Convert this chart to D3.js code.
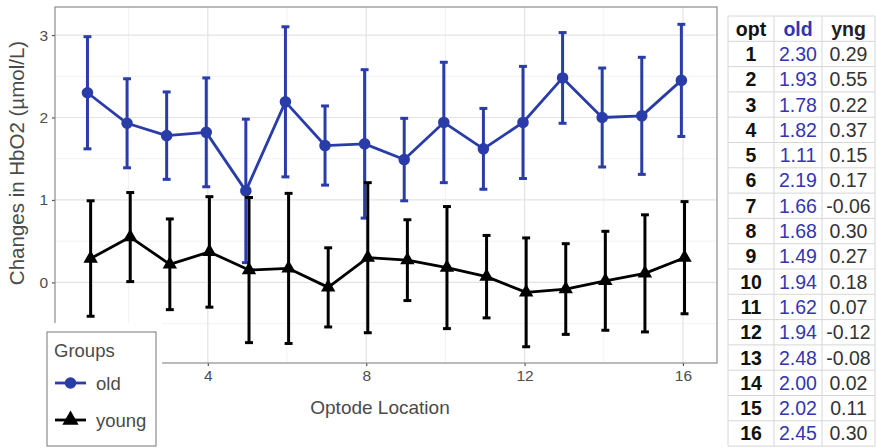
<!DOCTYPE html>
<html>
<head>
<meta charset="utf-8">
<script src="https://cdn.jsdelivr.net/npm/d3@7/dist/d3.min.js"></script>
<style>
  html, body { margin: 0; padding: 0; background: #fff; }
  svg { display: block; font-family: "Liberation Sans", Arial, sans-serif; }
</style>
</head>
<body>
<svg id="chart" width="878" height="448"></svg>
<script>
// Optode locations and group means of HbO2 change (µmol/L)
const optodes = [1, 2, 3, 4, 5, 6, 7, 8, 9, 10, 11, 12, 13, 14, 15, 16];
const oldMeans = [2.30, 1.93, 1.78, 1.82, 1.11, 2.19, 1.66, 1.68, 1.49, 1.94, 1.62, 1.94, 2.48, 2.00, 2.02, 2.45];
const youngMeans = [0.29, 0.55, 0.22, 0.37, 0.15, 0.17, -0.06, 0.30, 0.27, 0.18, 0.07, -0.12, -0.08, 0.02, 0.11, 0.30];
// Half-length of each error bar
const oldErr = [0.68, 0.54, 0.53, 0.66, 0.87, 0.91, 0.48, 0.90, 0.50, 0.73, 0.49, 0.68, 0.55, 0.60, 0.71, 0.68];
const youngErr = [0.70, 0.54, 0.55, 0.67, 0.88, 0.91, 0.48, 0.91, 0.49, 0.74, 0.50, 0.66, 0.55, 0.60, 0.71, 0.68];
const xTicks = [4, 8, 12, 16];
const yTicks = [0, 1, 2, 3];
const xMinor = [2, 6, 10, 14];
const yMinor = [-0.5, 0.5, 1.5, 2.5];
const groupNames = ["old", "young"];
const tableHeader = ["opt", "old", "yng"];

const blue = "#2a3ca8";
const svg = d3.select("#chart");

const panel = { left: 55, right: 717, top: 7, bottom: 363 };
const x = d3.scaleLinear().domain([0.14, 16.86]).range([panel.left, panel.right]);
const y = d3.scaleLinear().domain([-0.977, 3.34]).range([panel.bottom, panel.top]);

// Panel background and grid
svg.append("rect").attr("x", panel.left).attr("y", panel.top)
  .attr("width", panel.right - panel.left).attr("height", panel.bottom - panel.top)
  .attr("fill", "#fff");

const grid = svg.append("g");
grid.selectAll(".xminor").data(xMinor).join("line")
  .attr("x1", d => x(d)).attr("x2", d => x(d))
  .attr("y1", panel.top).attr("y2", panel.bottom)
  .attr("stroke", "#f2f2f2").attr("stroke-width", 1);
grid.selectAll(".yminor").data(yMinor).join("line")
  .attr("y1", d => y(d)).attr("y2", d => y(d))
  .attr("x1", panel.left).attr("x2", panel.right)
  .attr("stroke", "#f2f2f2").attr("stroke-width", 1);
grid.selectAll(".xmajor").data(xTicks).join("line")
  .attr("x1", d => x(d)).attr("x2", d => x(d))
  .attr("y1", panel.top).attr("y2", panel.bottom)
  .attr("stroke", "#e3e3e3").attr("stroke-width", 1.2);
grid.selectAll(".ymajor").data(yTicks).join("line")
  .attr("y1", d => y(d)).attr("y2", d => y(d))
  .attr("x1", panel.left).attr("x2", panel.right)
  .attr("stroke", "#e3e3e3").attr("stroke-width", 1.2);

// Axes
const xAxis = svg.append("g")
  .attr("transform", `translate(0,${panel.bottom})`)
  .call(d3.axisBottom(x).tickValues(xTicks).tickSize(3).tickPadding(4).tickFormat(d3.format("d")));
const yAxis = svg.append("g")
  .attr("transform", `translate(${panel.left},0)`)
  .call(d3.axisLeft(y).tickValues(yTicks).tickSize(3).tickPadding(4).tickFormat(d3.format("d")));
[xAxis, yAxis].forEach(a => {
  a.select(".domain").remove();
  a.selectAll(".tick line").attr("stroke", "#555").attr("stroke-width", 1.2);
  a.selectAll(".tick text").attr("fill", "#4d4d4d").attr("font-size", 15.5)
    .attr("font-family", "Liberation Sans, Arial, sans-serif");
});

// Series
const series = [
  { name: "old", means: oldMeans, err: oldErr, color: blue, shape: "circle", dodge: -0.04 },
  { name: "young", means: youngMeans, err: youngErr, color: "#000", shape: "triangle", dodge: 0.04 }
];
const capHalf = 0.1;
const line = d3.line().x(d => x(d.opt)).y(d => y(d.mean));

series.forEach(s => {
  const pts = optodes.map((o, i) => ({ opt: o + s.dodge, mean: s.means[i], err: s.err[i] }));
  const g = svg.append("g");
  const eb = g.selectAll(".eb").data(pts).join("g")
    .attr("stroke", s.color).attr("stroke-width", 3).attr("fill", "none");
  eb.append("line")
    .attr("x1", d => x(d.opt)).attr("x2", d => x(d.opt))
    .attr("y1", d => y(d.mean - d.err)).attr("y2", d => y(d.mean + d.err));
  eb.append("line")
    .attr("x1", d => x(d.opt - capHalf)).attr("x2", d => x(d.opt + capHalf))
    .attr("y1", d => y(d.mean + d.err)).attr("y2", d => y(d.mean + d.err));
  eb.append("line")
    .attr("x1", d => x(d.opt - capHalf)).attr("x2", d => x(d.opt + capHalf))
    .attr("y1", d => y(d.mean - d.err)).attr("y2", d => y(d.mean - d.err));
  g.append("path").datum(pts).attr("d", line)
    .attr("fill", "none").attr("stroke", s.color).attr("stroke-width", 2.8)
    .attr("stroke-linejoin", "round");
  const sym = d3.symbol().type(s.shape === "circle" ? d3.symbolCircle : d3.symbolTriangle)
    .size(s.shape === "circle" ? 105 : 90);
  g.selectAll(".pt").data(pts).join("path")
    .attr("transform", d => `translate(${x(d.opt)},${y(d.mean)})`)
    .attr("d", sym).attr("fill", s.color);
});

// Panel border
svg.append("rect").attr("x", panel.left).attr("y", panel.top)
  .attr("width", panel.right - panel.left).attr("height", panel.bottom - panel.top)
  .attr("fill", "none").attr("stroke", "#8c8c8c").attr("stroke-width", 1.2);

// Axis titles
svg.append("text")
  .attr("transform", `translate(24,163) rotate(-90)`)
  .attr("text-anchor", "middle")
  .attr("font-size", 20.5).attr("fill", "#4a4a4a")
  .text("Changes in HbO2 (µmol/L)");
svg.append("text")
  .attr("x", 380).attr("y", 414)
  .attr("text-anchor", "middle")
  .attr("font-size", 19).attr("fill", "#4a4a4a")
  .text("Optode Location");

// Legend (placed over the lower-left corner of the panel)
const legend = svg.append("g");
legend.append("rect").attr("x", 38).attr("y", 323).attr("width", 124).attr("height", 125).attr("fill", "#fff");
legend.append("rect").attr("x", 47).attr("y", 332).attr("width", 109).attr("height", 114)
  .attr("fill", "#fff").attr("stroke", "#8c8c8c").attr("stroke-width", 1.2);
legend.append("text").attr("x", 54).attr("y", 357).attr("font-size", 18.5).attr("fill", "#4a4a4a").text("Groups");
series.forEach((s, i) => {
  const cy = 383 + i * 37;
  legend.append("line").attr("x1", 55).attr("x2", 86).attr("y1", cy).attr("y2", cy)
    .attr("stroke", s.color).attr("stroke-width", 2.8);
  legend.append("path").attr("transform", `translate(70.5,${cy})`)
    .attr("d", d3.symbol().type(s.shape === "circle" ? d3.symbolCircle : d3.symbolTriangle)
      .size(s.shape === "circle" ? 105 : 115)())
    .attr("fill", s.color);
  legend.append("text").attr("x", 96).attr("y", cy + 6.5).attr("font-size", 18.5)
    .attr("fill", "#4a4a4a").text(groupNames[i]);
});

// Value table
const colX = [728, 774, 822, 875];
const tableTop = 16, rowH = 25.3;
const table = svg.append("g");
const nRows = optodes.length + 1;
table.selectAll(".hl").data(d3.range(nRows + 1)).join("line")
  .attr("x1", colX[0]).attr("x2", colX[3])
  .attr("y1", d => tableTop + d * rowH).attr("y2", d => tableTop + d * rowH)
  .attr("stroke", "#d6d6d6").attr("stroke-width", 1);
table.selectAll(".vl").data(colX).join("line")
  .attr("x1", d => d).attr("x2", d => d)
  .attr("y1", tableTop).attr("y2", tableTop + nRows * rowH)
  .attr("stroke", "#d6d6d6").attr("stroke-width", 1);

const colCenter = i => (colX[i] + colX[i + 1]) / 2;
const headColors = ["#111", "#3535b0", "#222"];
const fs = 19.5;
tableHeader.forEach((h, i) => {
  table.append("text").attr("x", colCenter(i)).attr("y", tableTop + rowH / 2 + 7)
    .attr("text-anchor", "middle").attr("font-size", fs).attr("font-weight", "bold")
    .attr("fill", headColors[i]).text(h);
});
optodes.forEach((o, r) => {
  const ty = tableTop + (r + 1) * rowH + rowH / 2 + 7;
  table.append("text").attr("x", colCenter(0)).attr("y", ty).attr("text-anchor", "middle")
    .attr("font-size", fs).attr("font-weight", "bold").attr("fill", "#111").text(o);
  table.append("text").attr("x", colCenter(1)).attr("y", ty).attr("text-anchor", "middle")
    .attr("font-size", fs).attr("fill", "#3535b0").text(oldMeans[r].toFixed(2));
  table.append("text").attr("x", colCenter(2)).attr("y", ty).attr("text-anchor", "middle")
    .attr("font-size", fs).attr("fill", "#333").text(youngMeans[r].toFixed(2));
});
</script>
</body>
</html>
